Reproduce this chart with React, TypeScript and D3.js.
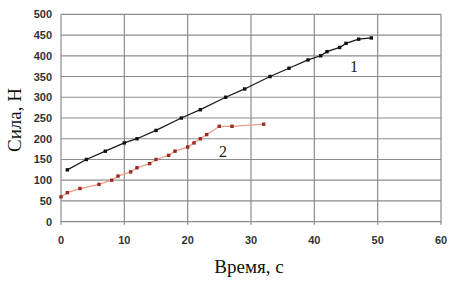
import React, { useEffect, useRef } from 'react';
import * as d3 from 'd3';

// серия 1 (чёрная)
const time1 = [1, 4, 7, 10, 12, 15, 19, 22, 26, 29, 33, 36, 39, 41, 42, 44, 45, 47, 49];
const force1 = [125, 150, 170, 190, 200, 220, 250, 270, 300, 320, 350, 370, 390, 400, 410, 420, 430, 440, 443];

// серия 2 (красная)
const time2 = [0, 1, 3, 6, 8, 9, 11, 12, 14, 15, 17, 18, 20, 21, 22, 23, 25, 27, 32];
const force2 = [60, 70, 80, 90, 100, 110, 120, 130, 140, 150, 160, 170, 180, 190, 200, 210, 230, 230, 235];

const xTicks = [0, 10, 20, 30, 40, 50, 60];
const yTicks = [0, 50, 100, 150, 200, 250, 300, 350, 400, 450, 500];

const App = () => {
  const svgRef = useRef<SVGSVGElement>(null);

  useEffect(() => {
    const svg = d3.select(svgRef.current);
    svg.selectAll('*').remove();

    const width = 453,
      height = 282;
    svg.attr('width', width).attr('height', height);

    const x = d3.scaleLinear().domain([0, 60]).range([61, 441]);
    const y = d3.scaleLinear().domain([0, 500]).range([221.7, 14.3]);

    svg.append('rect').attr('width', width).attr('height', height).attr('fill', '#fff');

    // сетка
    svg
      .append('g')
      .selectAll('line')
      .data(yTicks)
      .enter()
      .append('line')
      .attr('x1', x(0))
      .attr('x2', x(60))
      .attr('y1', (d) => y(d))
      .attr('y2', (d) => y(d))
      .attr('stroke', '#8c8c8c')
      .attr('stroke-width', 1.2);

    svg
      .append('g')
      .selectAll('line')
      .data(xTicks)
      .enter()
      .append('line')
      .attr('x1', (d) => x(d))
      .attr('x2', (d) => x(d))
      .attr('y1', y(500))
      .attr('y2', y(0) + 3)
      .attr('stroke', '#8c8c8c')
      .attr('stroke-width', 1.2);

    // подписи делений
    svg
      .append('g')
      .selectAll('text')
      .data(yTicks)
      .enter()
      .append('text')
      .attr('x', 52)
      .attr('y', (d) => y(d) + 4)
      .attr('text-anchor', 'end')
      .attr('font-family', 'Liberation Sans, Arial, sans-serif')
      .attr('font-weight', 'bold')
      .attr('font-size', 11)
      .attr('fill', '#333')
      .text((d) => d);

    svg
      .append('g')
      .selectAll('text')
      .data(xTicks)
      .enter()
      .append('text')
      .attr('x', (d) => x(d))
      .attr('y', 244)
      .attr('text-anchor', 'middle')
      .attr('font-family', 'Liberation Sans, Arial, sans-serif')
      .attr('font-weight', 'bold')
      .attr('font-size', 11)
      .attr('fill', '#333')
      .text((d) => d);

    const drawSeries = (t: number[], f: number[], lineColor: string, markColor: string) => {
      const pts = t.map((d, i) => [x(d), y(f[i])] as [number, number]);
      svg
        .append('path')
        .attr('d', d3.line()(pts))
        .attr('fill', 'none')
        .attr('stroke', lineColor)
        .attr('stroke-width', 1.3);
      svg
        .append('g')
        .selectAll('rect')
        .data(pts)
        .enter()
        .append('rect')
        .attr('x', (d) => d[0] - 1.7)
        .attr('y', (d) => d[1] - 1.7)
        .attr('width', 3.4)
        .attr('height', 3.4)
        .attr('fill', markColor);
    };

    drawSeries(time2, force2, '#e8a08a', '#9a2a22');
    drawSeries(time1, force1, '#1a1a1a', '#111');

    // номера кривых
    svg
      .append('text')
      .attr('x', 354)
      .attr('y', 72)
      .attr('text-anchor', 'middle')
      .attr('font-family', 'Liberation Serif, serif')
      .attr('font-size', 16)
      .attr('fill', '#222')
      .text('1');
    svg
      .append('text')
      .attr('x', 223)
      .attr('y', 157)
      .attr('text-anchor', 'middle')
      .attr('font-family', 'Liberation Serif, serif')
      .attr('font-size', 16)
      .attr('fill', '#222')
      .text('2');

    // подписи осей
    svg
      .append('text')
      .attr('x', 249)
      .attr('y', 273)
      .attr('text-anchor', 'middle')
      .attr('font-family', 'Liberation Serif, serif')
      .attr('font-size', 19)
      .attr('fill', '#111')
      .text('Время, с');

    svg
      .append('text')
      .attr('transform', 'translate(21,120) rotate(-90)')
      .attr('text-anchor', 'middle')
      .attr('font-family', 'Liberation Serif, serif')
      .attr('font-size', 19)
      .attr('fill', '#111')
      .text('Сила, Н');
  }, []);

  return (
    <div style={{ position: 'absolute', left: 0, top: 0 }}>
      <svg ref={svgRef} style={{ display: 'block' }} />
    </div>
  );
};

export default App;
